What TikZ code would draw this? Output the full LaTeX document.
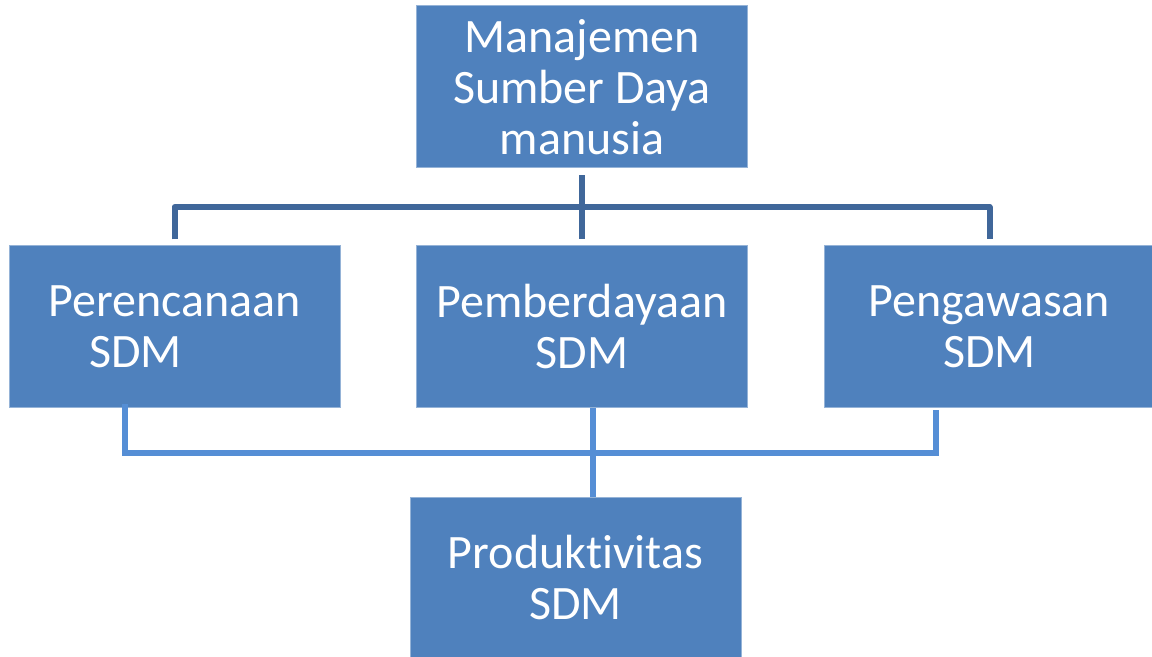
\documentclass[tikz,border=0pt]{standalone}
\usepackage{fontspec}
\setmainfont{Carlito}[Ligatures=NoCommon]
\usetikzlibrary{calc}

\definecolor{boxblue}{HTML}{4F81BD}
\definecolor{topline}{HTML}{40679A}
\definecolor{lowline}{HTML}{558ED5}

\tikzset{
    unit/.style={rectangle, fill=boxblue, draw=boxblue!60!white, line width=0.5pt,
        minimum width=165.5pt, minimum height=81pt, inner sep=0pt,
        align=center, text=white, font=\fontsize{24}{25.5}\selectfont},
    uplink/.style={draw=topline, line width=3pt},
    lowlink/.style={draw=lowline, line width=3pt}
}

\begin{document}
\begin{tikzpicture}[x=0.5pt, y=-0.5pt]
        \useasboundingbox (0,0) rectangle (1152,657);

        \node[unit] (msdm) at (582,87) {Manajemen\\Sumber Daya\\manusia};
        \node[unit] (perencanaan) at (174.5,327) {Perencanaan\\SDM\hspace*{39pt}};
        \node[unit] (pemberdayaan) at (582,327) {Pemberdayaan\\SDM};
        \node[unit] (pengawasan) at (989.5,327) {Pengawasan\\SDM};
        \node[unit, minimum height=80pt] (produktivitas) at (575.5,577.5) {Produktivitas\\SDM};

        \coordinate (hub) at (582,207);
        \coordinate (base) at (593,453);

        % upper tree
        \draw[uplink] ([yshift=-3.5pt]msdm.south) -- ([yshift=3pt]pemberdayaan.north);
        \draw[uplink, line join=round] ([yshift=3pt]perencanaan.north) |- (hub) -| ([yshift=3pt]pengawasan.north);

        % lower tree
        \draw[lowlink] ([xshift=-25pt, yshift=2pt]perencanaan.south) |- (base);
        \draw[lowlink] ([xshift=-26.75pt, yshift=-1pt]pengawasan.south) |- (base);
        \draw[lowlink] (pemberdayaan.south -| base) -- (produktivitas.north -| base);

    \end{tikzpicture}
\end{document}
